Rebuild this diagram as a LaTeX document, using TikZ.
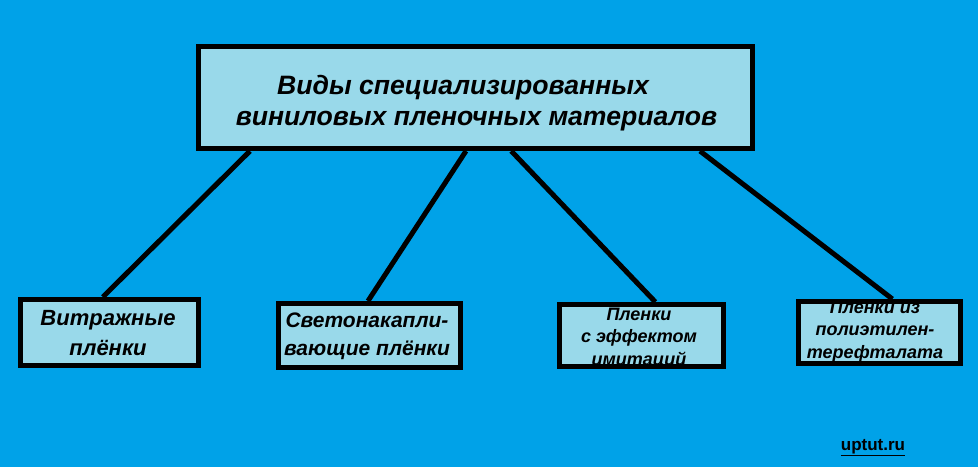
\documentclass[tikz,border=0pt]{standalone}
\usepackage{fontspec}
\setmainfont{Liberation Sans}
\usetikzlibrary{calc}
\definecolor{bgblue}{RGB}{0,162,232}
\definecolor{boxfill}{RGB}{153,217,234}
\begin{document}
\begin{tikzpicture}[x=1pt,y=-1pt,
  box/.style={draw=black, line width=5pt, fill=boxfill, inner sep=0pt},
  link/.style={line width=5pt, draw=black},
  lbl/.style={font=\bfseries\itshape, align=center, inner sep=0pt, text=black, anchor=base}]
\fill[bgblue] (0,0) rectangle (978,467);
\useasboundingbox (0,0) rectangle (978,467);
\node[box, minimum width=554pt, minimum height=102pt] (top) at (475.5,97.5) {};
\node[box, minimum width=178pt, minimum height=66pt] (b1) at (109.5,332.5) {};
\node[box, minimum width=182pt, minimum height=64pt] (b2) at (369.5,335.5) {};
\node[box, minimum width=164pt, minimum height=62pt] (b3) at (641.5,335.5) {};
\node[box, minimum width=162pt, minimum height=62pt] (b4) at (879.5,332.5) {};
\node[lbl, font=\bfseries\itshape\fontsize{26.6}{31}\selectfont] (toptext) at (476.5,125) {Виды специализированных\hspace*{27pt}\\виниловых пленочных материалов};
\node[lbl, font=\bfseries\itshape\fontsize{22}{30}\selectfont] (t1) at (108,355) {Витражные\\плёнки};
\node[lbl, font=\bfseries\itshape\fontsize{21}{28}\selectfont] (t2) at (367,355) {Светонакапли-\\вающие плёнки};
\node[lbl, font=\bfseries\itshape\fontsize{18}{22.5}\selectfont] (t3) at (639,365) {Пленки\\с эффектом\\имитаций};
\node[lbl, font=\bfseries\itshape\fontsize{18}{22.5}\selectfont] (t4) at (875,358) {Пленки из\\полиэтилен-\\терефталата};
\node[inner sep=0pt, anchor=base, font=\bfseries\fontsize{17}{17}\selectfont] (site) at (873,450) {\underline{uptut.ru}};
\draw[link] ($(top.south west)!0.0966!(top.south east)$) -- ($(b1.north west)!0.4635!(b1.north east)$);
\draw[link] ($(top.south west)!0.483!(top.south east)$) -- ($(b2.north west)!0.4918!(b2.north east)$);
\draw[link] ($(top.south west)!0.564!(top.south east)$) -- ($(b3.north west)!0.582!(b3.north east)$);
\draw[link] ($(top.south west)!0.9016!(top.south east)$) -- ($(b4.north west)!0.577!(b4.north east)$);
\end{tikzpicture}
\end{document}
